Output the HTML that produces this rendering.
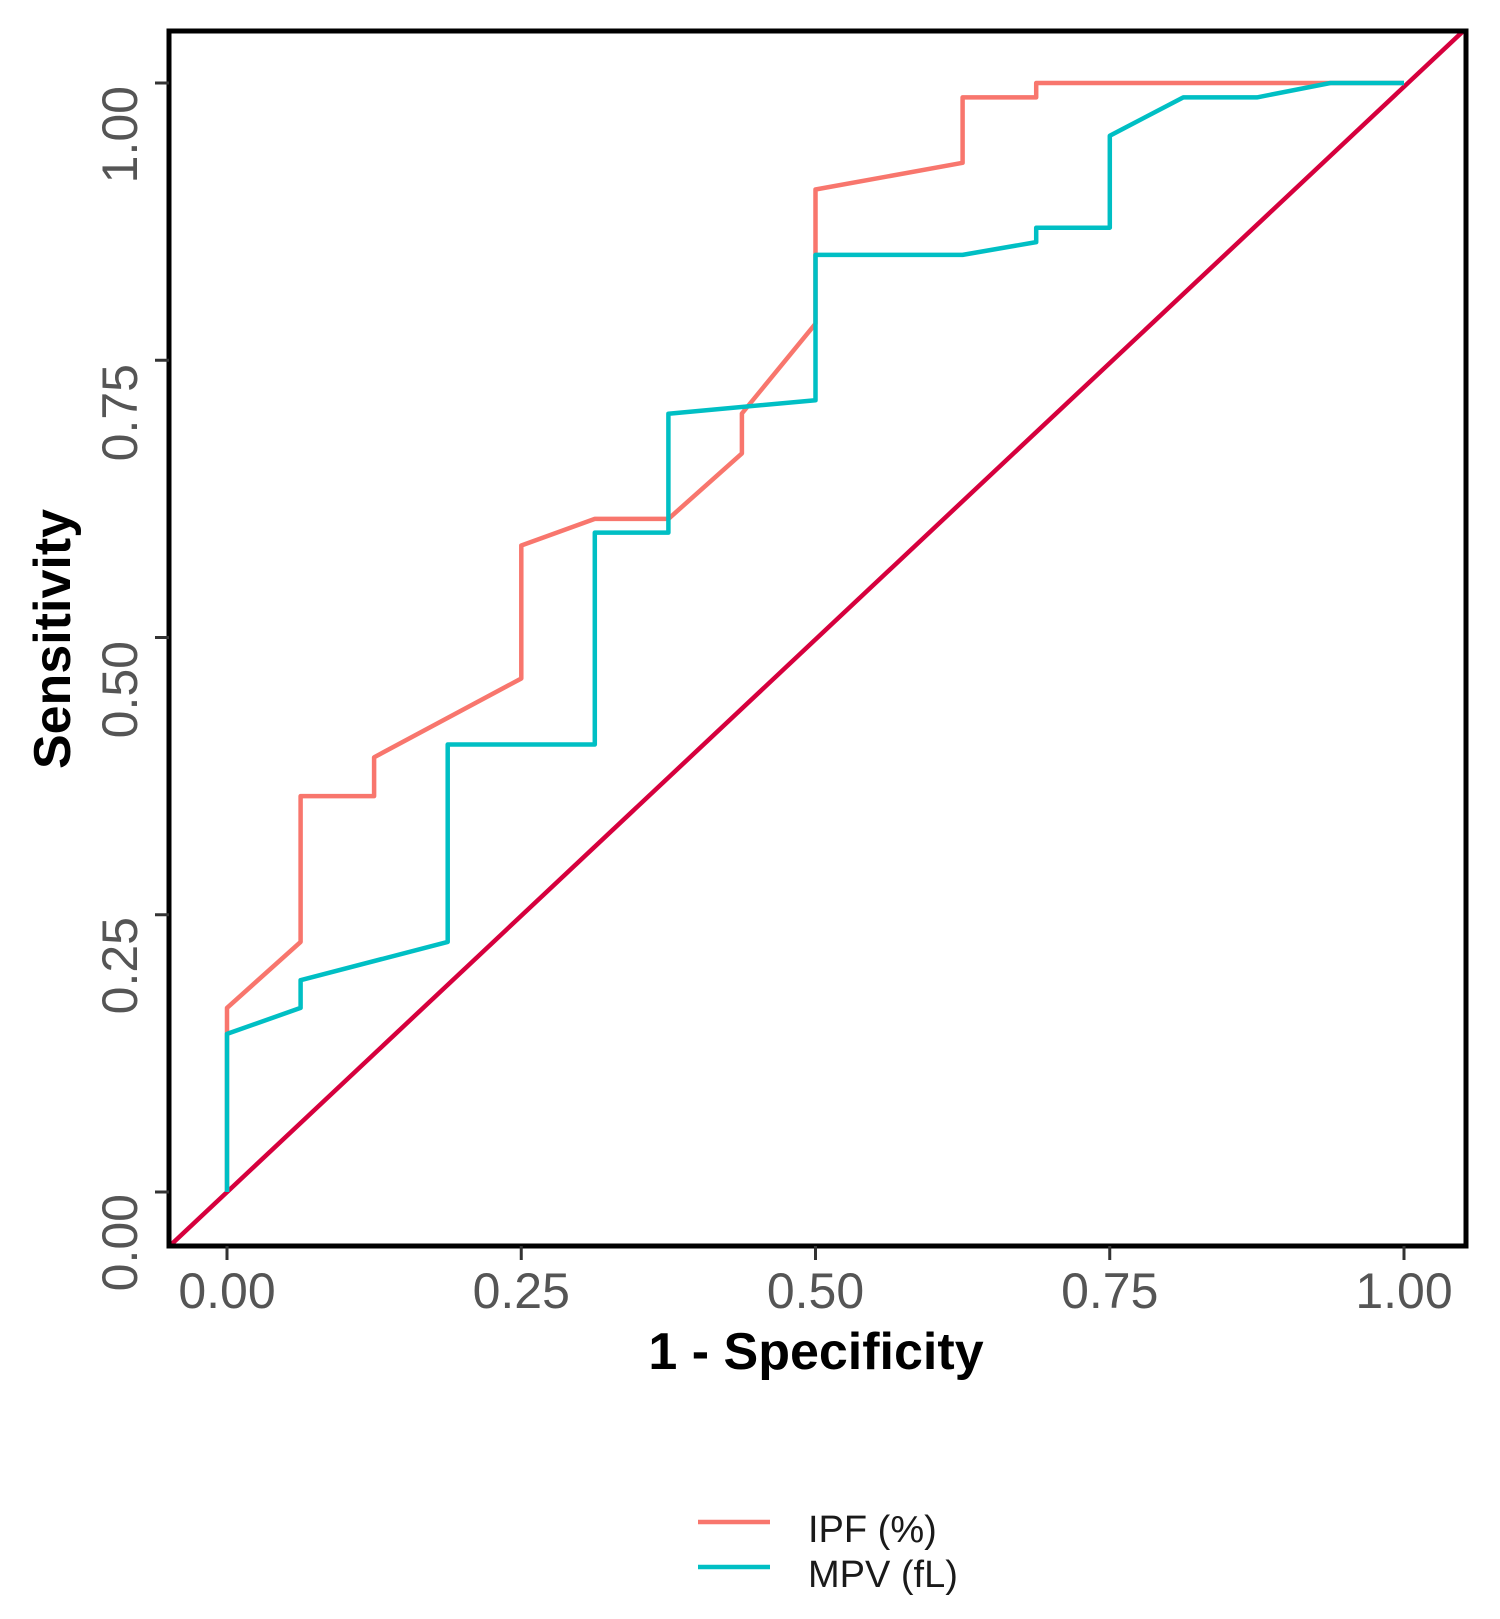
<!DOCTYPE html>
<html><head><meta charset="utf-8"><style>
html,body{margin:0;padding:0;background:#fff;}
svg{display:block;}
text{font-family:"Liberation Sans",Arial,sans-serif;}
</style></head><body>
<svg width="1500" height="1619" viewBox="0 0 1500 1619" xmlns="http://www.w3.org/2000/svg">
<rect width="1500" height="1619" fill="#fff"/>
<defs><clipPath id="c"><rect x="169" y="31" width="1297" height="1215"/></clipPath></defs>
<g clip-path="url(#c)" fill="none" stroke-width="4.5" stroke-linejoin="round">
<line x1="169" y1="1246.6" x2="1466" y2="28.5" stroke="#d6003d"/>
<polyline stroke="#f8766d" points="227,1192 227,1007.9 300.6,941.9 300.6,796.1 374.1,796.1 374.1,757.3 521.3,678.5 521.3,545.5 594.8,518.9 668.4,518.9 741.9,453.4 741.9,413.5 815.5,323.7 815.5,189.5 962.6,162.8 962.6,97.4 1036.2,97.4 1036.2,83 1404,83"/>
<polyline stroke="#00bfc4" points="227,1192 227,1033.9 300.6,1007.9 300.6,980.2 447.7,941.9 447.7,744.5 594.8,744.5 594.8,532.6 668.4,532.6 668.4,413.7 815.5,400.2 815.5,254.9 962.6,254.9 1036.2,242.1 1036.2,227.7 1109.8,227.7 1109.8,135.7 1183.3,97.4 1256.9,97.4 1330.4,83 1404,83"/>
</g>
<rect x="169" y="31" width="1297" height="1215" fill="none" stroke="#000" stroke-width="5"/>
<g stroke="#333" stroke-width="3">
<line x1="155" y1="1192" x2="169" y2="1192"/><line x1="155" y1="914.75" x2="169" y2="914.75"/><line x1="155" y1="637.5" x2="169" y2="637.5"/><line x1="155" y1="360.25" x2="169" y2="360.25"/><line x1="155" y1="83" x2="169" y2="83"/>
<line x1="227" y1="1246" x2="227" y2="1260"/><line x1="521.25" y1="1246" x2="521.25" y2="1260"/><line x1="815.5" y1="1246" x2="815.5" y2="1260"/><line x1="1109.75" y1="1246" x2="1109.75" y2="1260"/><line x1="1404" y1="1246" x2="1404" y2="1260"/>
</g>
<g fill="#555" font-size="50" text-anchor="middle">
<text x="227" y="1308">0.00</text><text x="521.25" y="1308">0.25</text><text x="815.5" y="1308">0.50</text><text x="1109.75" y="1308">0.75</text><text x="1404" y="1308">1.00</text>
</g>
<g fill="#555" font-size="50" text-anchor="end">
<text transform="translate(137,1194) rotate(-90)">0.00</text>
<text transform="translate(137,917) rotate(-90)">0.25</text>
<text transform="translate(137,641) rotate(-90)">0.50</text>
<text transform="translate(137,364) rotate(-90)">0.75</text>
<text transform="translate(137,86) rotate(-90)">1.00</text>
</g>
<text x="816" y="1369" font-size="52" font-weight="bold" text-anchor="middle" fill="#000">1 - Specificity</text>
<text transform="translate(70,639) rotate(-90)" font-size="52" font-weight="bold" text-anchor="middle" fill="#000">Sensitivity</text>
<line x1="698" y1="1522" x2="770" y2="1522" stroke="#f8766d" stroke-width="4.5"/>
<line x1="698" y1="1567" x2="770" y2="1567" stroke="#00bfc4" stroke-width="4.5"/>
<text x="808" y="1542" font-size="38" fill="#1a1a1a">IPF (%)</text>
<text x="808" y="1587" font-size="38" fill="#1a1a1a">MPV (fL)</text>
</svg>
</body></html>
